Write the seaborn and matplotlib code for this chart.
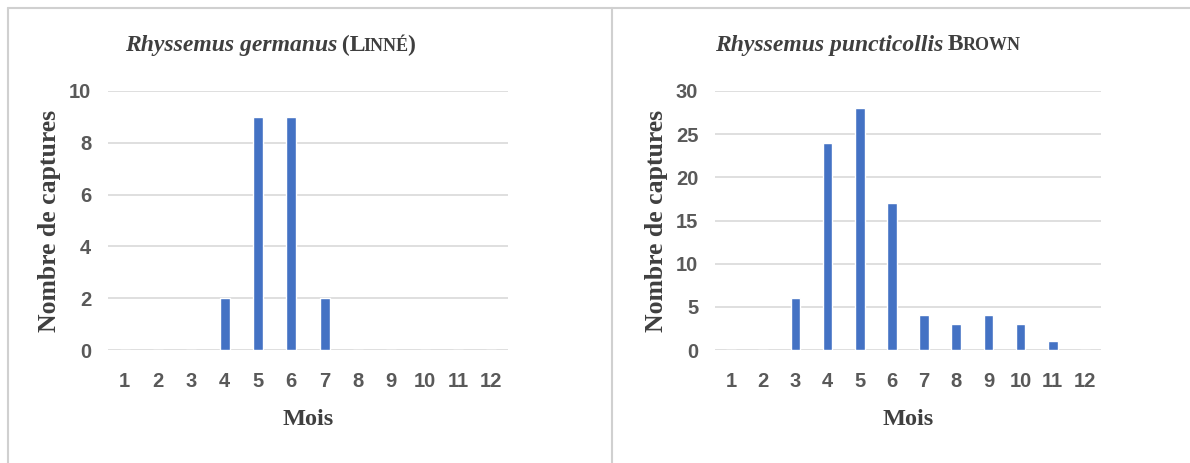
import pandas as pd
import seaborn as sns
import matplotlib.pyplot as plt
from matplotlib.lines import Line2D
from matplotlib.offsetbox import TextArea, HPacker, AnchoredOffsetbox

# Data
months = [1, 2, 3, 4, 5, 6, 7, 8, 9, 10, 11, 12]
germanus = [0, 0, 0, 2, 9, 9, 2, 0, 0, 0, 0, 0]
puncticollis = [0, 0, 6, 24, 28, 17, 4, 3, 4, 3, 1, 0]
germanus_ticks = [0, 2, 4, 6, 8, 10]
puncticollis_ticks = [0, 5, 10, 15, 20, 25, 30]

bar_color = '#4472C4'
grid_color = '#d9d9d9'
text_color = '#595959'
title_color = '#3f3f3f'

sns.set_style('white')
plt.rcParams['font.family'] = ['Liberation Serif', 'DejaVu Serif']

fig = plt.figure(figsize=(11.9, 4.63), dpi=100)

# panel borders
for xs, ys in [([8 / 1190, 8 / 1190], [0, 1 - 8 / 463]),
               ([8 / 1190, 1], [1 - 8 / 463, 1 - 8 / 463]),
               ([612 / 1190, 612 / 1190], [0, 1 - 8 / 463])]:
    fig.add_artist(Line2D(xs, ys, transform=fig.transFigure, color='#d0d0d0', lw=1.5))


def title_box(parts, x):
    areas = []
    for txt, size, style in parts:
        areas.append(TextArea(txt, textprops=dict(fontsize=size, fontweight='bold', fontstyle=style,
                                                  color=title_color, family='Liberation Serif')))
    box = HPacker(children=areas, align='baseline', pad=0, sep=-1)
    anch = AnchoredOffsetbox(loc='center', child=box, pad=0, frameon=False,
                             bbox_to_anchor=(x, 1 - 45 / 463), bbox_transform=fig.transFigure,
                             borderpad=0)
    fig.add_artist(anch)


def draw_panel(rect, values, yticks):
    ax = fig.add_axes(rect)
    df = pd.DataFrame({'Mois': months, 'Captures': values})
    sns.barplot(data=df, x='Mois', y='Captures', color=bar_color, width=0.3,
                saturation=1, ax=ax, order=months)
    ax.set_xlim(-0.5, 11.5)
    ax.set_ylim(0, yticks[-1])
    ax.set_yticks(yticks)
    ax.yaxis.grid(True, color=grid_color, lw=1.2)
    ax.set_axisbelow(True)
    for s in ax.spines.values():
        s.set_visible(False)
    ax.tick_params(length=0, colors=text_color)
    ax.tick_params(axis='x', pad=16)
    ax.tick_params(axis='y', pad=12)
    for lbl in ax.get_xticklabels() + ax.get_yticklabels():
        lbl.set_family('Liberation Sans')
        lbl.set_fontweight('bold')
        lbl.set_fontsize(14.5)
    ax.set_xlabel('Mois', fontsize=17.5, fontweight='bold', color=title_color, labelpad=13)
    ax.set_ylabel('Nombre de captures', fontsize=18.5, fontweight='bold', color=title_color, labelpad=6)
    return ax


ax1 = draw_panel([108 / 1190, 1 - 350 / 463, 400 / 1190, 259 / 463], germanus, germanus_ticks)
ax2 = draw_panel([715 / 1190, 1 - 350 / 463, 386 / 1190, 259 / 463], puncticollis, puncticollis_ticks)

title_box([('Rhyssemus germanus', 17, 'italic'), (' (L', 17, 'normal'),
           ('INNÉ', 13, 'normal'), (')', 17, 'normal')], 270 / 1190)
title_box([('Rhyssemus puncticollis', 17, 'italic'), (' B', 17, 'normal'),
           ('ROWN', 13, 'normal')], 868 / 1190)

plt.savefig('out.png', dpi=100)
